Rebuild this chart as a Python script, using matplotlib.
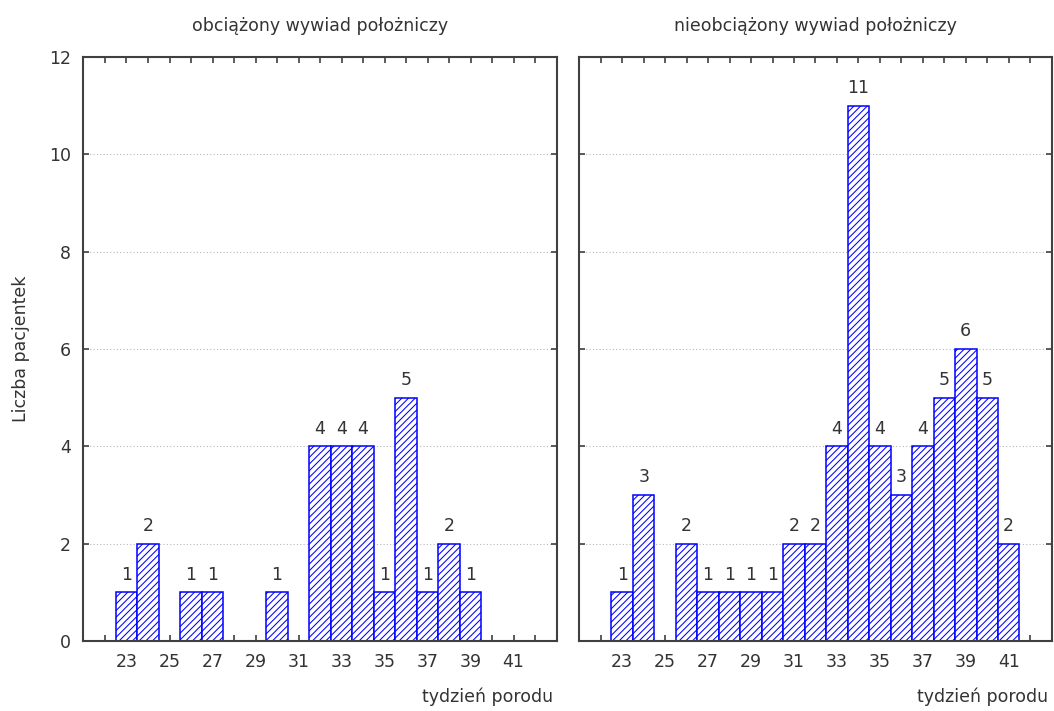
import numpy as np
import matplotlib
matplotlib.use("Agg")
import matplotlib.pyplot as plt

# tydzien porodu i liczba pacjentek w kazdej grupie
weeks = list(range(23, 42))
obciazony = [1, 2, 0, 1, 1, 0, 0, 1, 0, 4, 4, 4, 1, 5, 1, 2, 1, 0, 0]
nieobciazony = [1, 3, 0, 2, 1, 1, 1, 1, 2, 2, 4, 11, 4, 3, 4, 5, 6, 5, 2]

titles = ["obciążony wywiad położniczy", "nieobciążony wywiad położniczy"]
xlabel = "tydzień porodu"
ylabel = "Liczba pacjentek"

txt = "#333333"
bar_col = "#0000ff"

plt.rcParams["font.family"] = ["DejaVu Sans"]
plt.rcParams["hatch.color"] = bar_col
plt.rcParams["hatch.linewidth"] = 0.75

fig = plt.figure(figsize=(10.54, 7.11), dpi=100)
ax1 = fig.add_axes([0.0792, 0.0985, 0.4489, 0.8214])
ax2 = fig.add_axes([0.5496, 0.0985, 0.4482, 0.8214])

for ax, counts, title in [(ax1, obciazony, titles[0]), (ax2, nieobciazony, titles[1])]:
    x = [w for w, c in zip(weeks, counts) if c > 0]
    h = [c for c in counts if c > 0]
    ax.bar(x, h, width=1.0, color="white", edgecolor=bar_col,
           linewidth=1.1, hatch="/////", zorder=2)
    for xi, hi in zip(x, h):
        ax.text(xi, hi + 0.18, str(hi), ha="center", va="bottom",
                fontsize=12.5, color=txt)
    ax.set_xlim(21, 43)
    ax.set_ylim(0, 12)
    ax.set_xticks(range(22, 43))
    ax.set_xticklabels([str(t) if t % 2 == 1 else "" for t in range(22, 43)])
    ax.set_yticks(range(0, 13, 2))
    ax.yaxis.grid(True, linestyle=(0, (1, 2)), color="#b8b8b8", linewidth=0.8)
    ax.set_axisbelow(True)
    ax.tick_params(direction="in", top=True, right=True, length=4,
                   width=1.2, colors="#404040", labelcolor=txt,
                   labelsize=12.5, pad=9)
    for s in ax.spines.values():
        s.set_color("#404040")
        s.set_linewidth(1.5)
    ax.set_title(title, fontsize=12.5, color=txt, pad=19)
    ax.text(0.992, -0.08, xlabel, transform=ax.transAxes, ha="right",
            va="top", fontsize=12.5, color=txt)

ax1.set_ylabel(ylabel, fontsize=12.5, color=txt, labelpad=14)
ax2.set_yticklabels([])

fig.savefig("out.png", dpi=100, facecolor="white")
